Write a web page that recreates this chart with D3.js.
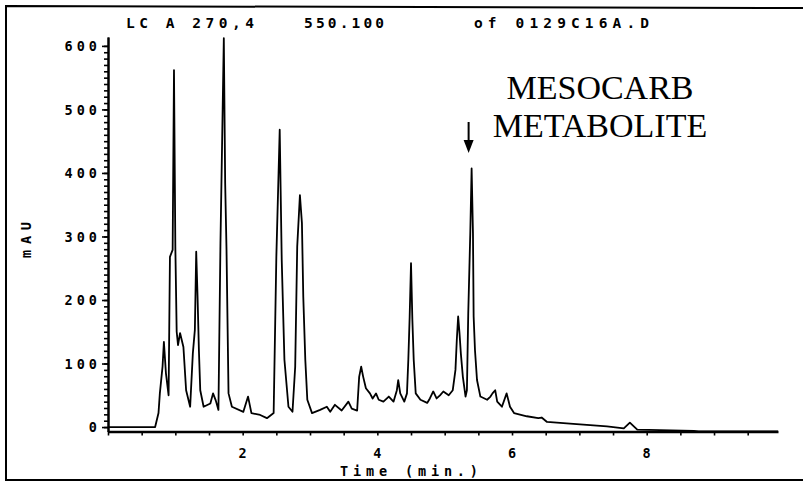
<!DOCTYPE html>
<html>
<head>
<meta charset="utf-8">
<script src="https://cdn.jsdelivr.net/npm/d3@7"></script>
<style>
  html, body { margin: 0; padding: 0; background: #fff; }
  svg { display: block; }
  .plotter { font-family: "DejaVu Sans Mono", monospace; font-weight: bold; fill: #000; }
</style>
</head>
<body>
<svg id="chart" width="803" height="484"></svg>
<script>
// Chromatogram trace: retention time (min) and absorbance (mAU)
const times = [
  0, 0.70, 0.75, 0.77, 0.81, 0.83, 0.86, 0.90, 0.92, 0.96,
  0.98, 1.00, 1.02, 1.04, 1.07, 1.12, 1.16, 1.22, 1.26, 1.29,
  1.31, 1.33, 1.35, 1.37, 1.42, 1.52, 1.56, 1.60, 1.64, 1.67,
  1.72, 1.74, 1.76, 1.79, 1.84, 2.01, 2.08, 2.13, 2.26, 2.36,
  2.46, 2.50, 2.55, 2.58, 2.62, 2.68, 2.74, 2.78, 2.81, 2.85,
  2.88, 2.90, 2.93, 2.96, 3.03, 3.15, 3.25, 3.30, 3.37, 3.47,
  3.57, 3.62, 3.70, 3.73, 3.76, 3.79, 3.83, 3.89, 3.93, 3.98,
  4.02, 4.09, 4.17, 4.24, 4.29, 4.31, 4.34, 4.40, 4.44, 4.46,
  4.48, 4.50, 4.52, 4.54, 4.57, 4.64, 4.74, 4.78, 4.83, 4.88,
  4.93, 4.98, 5.06, 5.12, 5.16, 5.18, 5.20, 5.22, 5.24, 5.27,
  5.31, 5.33, 5.35, 5.38, 5.40, 5.42, 5.43, 5.45, 5.48, 5.53,
  5.63, 5.68, 5.71, 5.75, 5.78, 5.85, 5.92, 5.97, 6.03, 6.22,
  6.39, 6.44, 6.52, 6.91, 7.41, 7.66, 7.75, 7.86, 8.70, 8.77,
  9.95
];
const mAU = [
  0, 0, 22, 53, 95, 134, 85, 50, 268, 279,
  562, 284, 150, 129, 148, 126, 58, 32, 116, 153,
  276, 205, 121, 58, 32, 37, 53, 42, 27, 289,
  612, 384, 279, 53, 32, 24, 48, 22, 19, 14,
  22, 268, 468, 263, 106, 32, 24, 95, 284, 365,
  321, 205, 106, 43, 22, 27, 32, 24, 35, 26,
  40, 29, 26, 79, 95, 79, 61, 53, 45, 53,
  43, 40, 48, 40, 58, 74, 53, 40, 53, 106,
  174, 258, 169, 106, 53, 43, 38, 45, 56, 45,
  50, 56, 50, 58, 90, 137, 174, 148, 116, 79,
  48, 58, 179, 305, 407, 305, 174, 121, 74, 48,
  43, 48, 53, 58, 40, 32, 53, 32, 22, 17,
  14, 15, 8, 5, 1, -2, 7, -4, -6, -7,
  -7
];

// Axis ticks and labels
const yMajorTicks = [0, 100, 200, 300, 400, 500, 600];
const yMinorTicks = d3.range(0, 61).map(i => i * 10);
const xLabelTicks = [2, 4, 6, 8];
const xMinorTicks = d3.range(0, 20).map(i => i * 0.5);

// Header and annotation text
const headerParts = ["LC A 270,4", "550.100", "of 0129C16A.D"];
const annotationLines = ["MESOCARB", "METABOLITE"];
const annotatedPeakTime = 5.40;

const svg = d3.select("#chart");

const x = d3.scaleLinear().domain([0, 9.95]).range([108, 778]);
const y = d3.scaleLinear().domain([-7, 614]).range([431.5, 37]);

// Page frame
const frame = svg.append("g").attr("stroke", "#000").attr("stroke-width", 2).attr("fill", "none");
frame.append("path").attr("d", "M803,8 L6,6 L6,480 L803,480");

// Header line of the printout
const headerX = [126, 304, 474];
const headerLen = [128, 80, 175];
svg.selectAll("text.header")
  .data(headerParts)
  .join("text")
  .attr("class", "plotter header")
  .attr("x", (d, i) => headerX[i])
  .attr("y", 28)
  .attr("font-size", 14.5)
  .attr("textLength", (d, i) => headerLen[i])
  .attr("lengthAdjust", "spacing")
  .text(d => d);

// Y axis: minor ticks every 10 mAU, longer major ticks every 100
const yMinor = d3.axisLeft(y).tickValues(yMinorTicks).tickSize(4).tickSizeOuter(0).tickFormat("");
const yMajor = d3.axisLeft(y).tickValues(yMajorTicks).tickSize(6).tickSizeOuter(0).tickFormat(d3.format("d"));

const gyMinor = svg.append("g").attr("transform", "translate(108,0)").call(yMinor);
const gyMajor = svg.append("g").attr("transform", "translate(108,0)").call(yMajor);
[gyMinor, gyMajor].forEach(g => {
  g.select(".domain").attr("stroke", "#000").attr("stroke-width", 2);
  g.selectAll(".tick line").attr("stroke", "#000").attr("stroke-width", 1.6);
});
gyMajor.selectAll(".tick text")
  .attr("class", "plotter")
  .attr("font-size", 13.5)
  .attr("x", -11)
  .attr("dy", "0.36em")
  .attr("textLength", d => String(d).length * 11.7 - 2.5)
  .attr("lengthAdjust", "spacing")
  .style("font-family", "'DejaVu Sans Mono', monospace")
  .style("font-weight", "bold");

// X axis: ticks every half minute, labels every two minutes
const xMinor = d3.axisBottom(x).tickValues(xMinorTicks).tickSize(4).tickSizeOuter(0).tickFormat("");
const gx = svg.append("g").attr("transform", `translate(0,${y(-7)})`).call(xMinor);
gx.select(".domain").attr("stroke", "#000").attr("stroke-width", 2.4);
gx.selectAll(".tick line").attr("stroke", "#000").attr("stroke-width", 1.6);

svg.selectAll("text.xlab")
  .data(xLabelTicks)
  .join("text")
  .attr("class", "plotter xlab")
  .attr("x", d => x(d))
  .attr("y", 458)
  .attr("font-size", 13.5)
  .attr("text-anchor", "middle")
  .text(d => d);

svg.append("text")
  .attr("class", "plotter")
  .attr("x", 340)
  .attr("y", 476)
  .attr("font-size", 13.5)
  .attr("textLength", 138)
  .attr("lengthAdjust", "spacing")
  .text("Time (min.)");

svg.append("text")
  .attr("class", "plotter")
  .attr("transform", "translate(31,240) rotate(-90)")
  .attr("text-anchor", "middle")
  .attr("font-size", 13.5)
  .attr("textLength", 36)
  .attr("lengthAdjust", "spacing")
  .text("mAU");

// Chromatogram trace
const points = times.map((t, i) => [t, mAU[i]]);
const line = d3.line().x(d => x(d[0])).y(d => y(d[1])).curve(d3.curveLinear);
svg.append("path")
  .datum(points)
  .attr("d", line)
  .attr("fill", "none")
  .attr("stroke", "#000")
  .attr("stroke-width", 1.8)
  .attr("stroke-linejoin", "round");

// Peak annotation
svg.selectAll("text.annot")
  .data(annotationLines)
  .join("text")
  .attr("class", "annot")
  .attr("x", 600)
  .attr("y", (d, i) => 99 + i * 38)
  .attr("text-anchor", "middle")
  .attr("font-family", "'Liberation Serif', 'Times New Roman', serif")
  .attr("font-size", 34)
  .attr("fill", "#000")
  .text(d => d);

const ax = x(annotatedPeakTime) - 3;
svg.append("line")
  .attr("x1", ax).attr("x2", ax)
  .attr("y1", 122).attr("y2", 142)
  .attr("stroke", "#000").attr("stroke-width", 2);
svg.append("path")
  .attr("d", `M${ax - 5},140 L${ax + 5},140 L${ax},153 Z`)
  .attr("fill", "#000");
</script>
</body>
</html>
